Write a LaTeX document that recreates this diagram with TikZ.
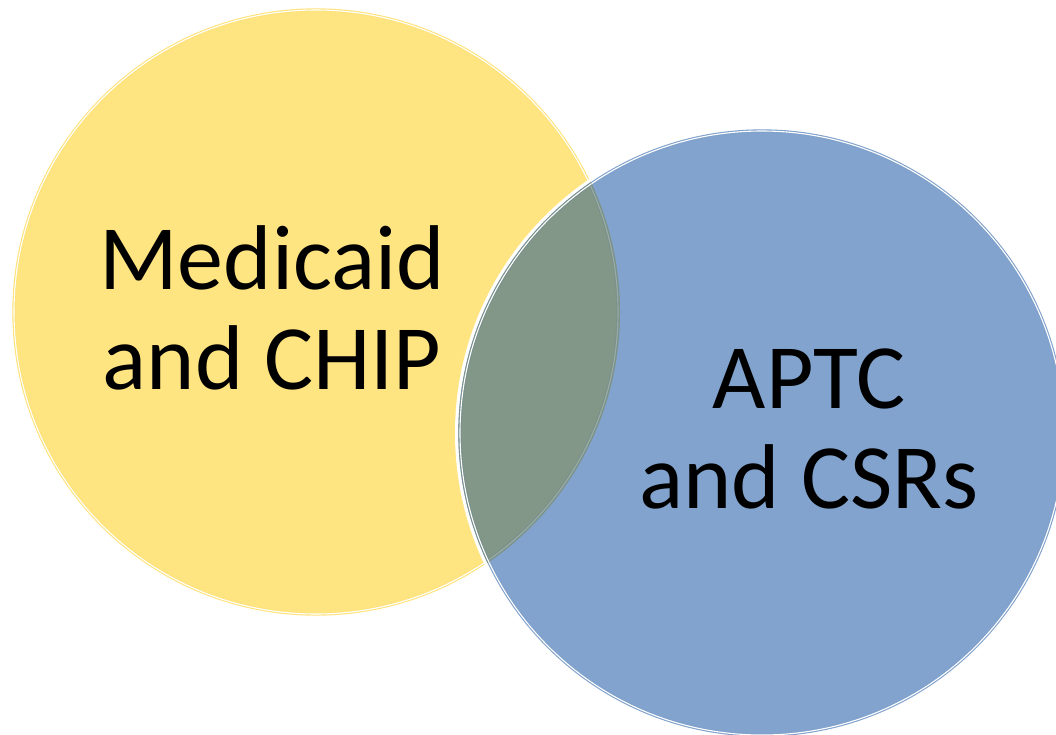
\documentclass[tikz,border=0pt]{standalone}
\usepackage{fontspec}
\setmainfont{Carlito}
\definecolor{ylwfill}{HTML}{FFE581}
\definecolor{ylwline}{HTML}{FFE27A}
\definecolor{bluefill}{HTML}{81A3CD}
\definecolor{blueline}{HTML}{7FA1CB}
\definecolor{ovfill}{HTML}{839789}
\definecolor{ovline}{HTML}{7A918B}
\definecolor{ovinner}{HTML}{9AACA6}
\tikzset{
  ring/.style={line width=1.1pt, double distance=1.1pt},
  label/.style={align=center, font=\fontsize{92}{100}\selectfont, inner sep=0pt, text=black}
}
\begin{document}
\begin{tikzpicture}[x=1pt,y=-1pt]
\useasboundingbox (0,0) rectangle (1056,734);
\fill[white] (0,0) rectangle (1056,734);
\coordinate (yc) at (316,312);
\coordinate (bc) at (762,433);
% yellow circle
\fill[ylwfill] (yc) circle[radius=302pt];
\draw[ring, draw=ylwline, double=white] (yc) circle[radius=302pt];
% blue circle with white halo
\draw[white, line width=8pt] (bc) circle[radius=303pt];
\fill[bluefill] (bc) circle[radius=302pt];
\draw[ring, draw=blueline, double=white] (bc) circle[radius=302pt];
% overlap region
\begin{scope}
  \clip (yc) circle[radius=304pt];
  \fill[ovfill] (bc) circle[radius=302pt];
  \draw[ring, draw=ovline, double=white] (bc) circle[radius=302pt];
\end{scope}
\begin{scope}
  \clip (bc) circle[radius=300.5pt];
  \draw[ring, draw=ovline, double=ovinner] (yc) circle[radius=302pt];
\end{scope}
\node[label] (med) at (272,308) {Medicaid\\and CHIP};
\node[label] (aptc) at (809,429) {APTC\\and CSRs};
\end{tikzpicture}
\end{document}
